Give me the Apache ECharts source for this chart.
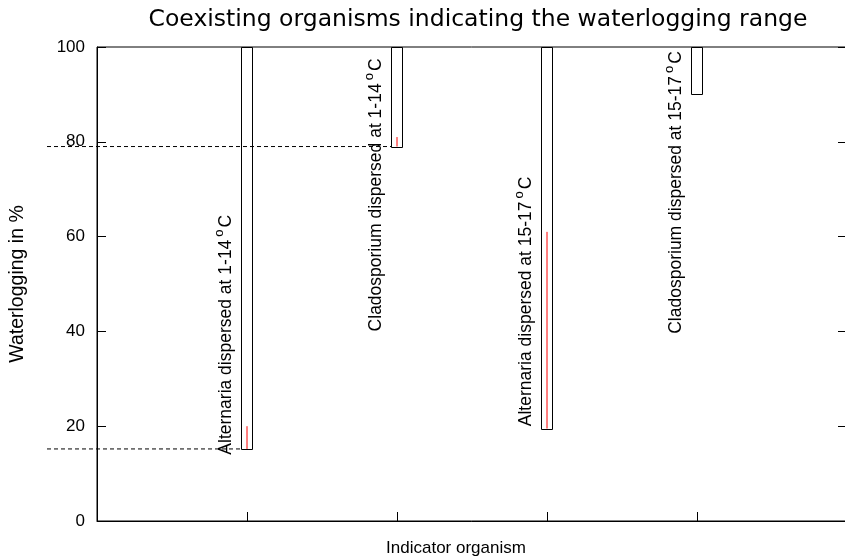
<!DOCTYPE html>
<html>
<head>
<meta charset="utf-8">
<script src="https://cdn.jsdelivr.net/npm/echarts@6/dist/echarts.min.js"></script>
<style>
  html, body { margin: 0; padding: 0; background: #fff; overflow: hidden; }
  #chart { width: 845px; height: 557px; }
</style>
</head>
<body>
<div id="chart"></div>
<script>
// range boxes: where each organism is found, from low value up to 100 %
const organisms = ['Alternaria 1-14', 'Cladosporium 1-14', 'Alternaria 15-17', 'Cladosporium 15-17'];
const positions = [1, 2, 3, 4];
const lowValues = [15.2, 79, 19.5, 90];
const highValues = [100, 100, 100, 100];
// red marker line inside each box (from low up to this value)
const redTops = [20, 81, 61, 90];
// rotated text next to each box
const labelTexts = [
  'Alternaria dispersed at 1-14{s|o}C',
  'Cladosporium dispersed at 1-14{s|o}C',
  'Alternaria dispersed at 15-17{s|o}C',
  'Cladosporium dispersed at 15-17{s|o}C'
];
const labelStarts = [14, 40, 20, 39.5];
// dashed reference lines (box index they lead to)
const dashedTo = [0, 1];
const yTicks = [0, 20, 40, 60, 80, 100];

const BOX_W = 0.075;
const LABEL_DX = -0.14;
const DASH_FROM = -1 / 3;
const FONT = '"Liberation Sans", Arial, sans-serif';

const chart = echarts.init(document.getElementById('chart'));

const boxData = positions.map((x, i) => [x, lowValues[i], highValues[i], redTops[i]]);
const labelData = positions.map((x, i) => [x + LABEL_DX, labelStarts[i], i]);
const dashData = dashedTo.map(i => [DASH_FROM, positions[i] - BOX_W / 2, lowValues[i]]);

const option = {
  animation: false,
  backgroundColor: '#fff',
  title: {
    text: 'Coexisting organisms indicating the waterlogging range',
    left: 473,
    textAlign: 'center',
    top: 3,
    textStyle: { fontFamily: '"DejaVu Sans", sans-serif', fontSize: 23.5, fontWeight: 'normal', color: '#000' }
  },
  grid: {
    left: 97, width: 750, top: 47, height: 474,
    outerBoundsMode: 'none',
    show: true, borderColor: '#000', borderWidth: 1
  },
  xAxis: {
    type: 'value', min: 0, max: 5, interval: 1,
    name: 'Indicator organism', nameLocation: 'middle', nameGap: 19,
    nameTextStyle: { fontFamily: FONT, fontSize: 17, color: '#000', padding: [0, 32, 0, 0] },
    axisLine: { show: true, onZero: false, lineStyle: { color: '#000', width: 1 } },
    axisTick: { show: true, inside: true, length: 9, lineStyle: { color: '#000' } },
    axisLabel: { show: false },
    splitLine: { show: false }
  },
  yAxis: [{
    type: 'value', min: 0, max: 100, interval: 20,
    name: 'Waterlogging in %', nameLocation: 'middle', nameGap: 69, nameRotate: 90,
    nameTextStyle: { fontFamily: FONT, fontSize: 19.5, color: '#000' },
    axisLine: { show: true, lineStyle: { color: '#000', width: 1 } },
    axisTick: { show: true, inside: true, length: 9, lineStyle: { color: '#000' } },
    axisLabel: { margin: 12, fontFamily: FONT, fontSize: 17, color: '#000',
      formatter: v => yTicks.includes(v) ? String(v) : '' },
    splitLine: { show: false }
  }, {
    type: 'value', min: 0, max: 100, interval: 20, position: 'right',
    axisLine: { show: false },
    axisTick: { show: true, inside: true, length: 9, lineStyle: { color: '#000' } },
    axisLabel: { show: false },
    splitLine: { show: false }
  }],
  series: [
    {
      // dashed guide lines
      type: 'custom', clip: false, z: 1,
      data: dashData,
      renderItem: (params, api) => {
        const a = api.coord([api.value(0), api.value(2)]);
        const b = api.coord([api.value(1), api.value(2)]);
        return {
          type: 'line',
          shape: { x1: a[0], y1: a[1], x2: b[0], y2: b[1] },
          style: { stroke: '#000', lineWidth: 1, lineDash: [4, 3] }
        };
      }
    },
    {
      // range boxes with red inner line
      type: 'custom', clip: false, z: 3,
      data: boxData,
      renderItem: (params, api) => {
        const x = api.value(0);
        const lo = api.coord([x, api.value(1)]);
        const hi = api.coord([x, api.value(2)]);
        const red = api.coord([x, api.value(3)]);
        const w = api.size([BOX_W, 0])[0];
        return {
          type: 'group',
          children: [
            {
              type: 'line',
              shape: { x1: lo[0], y1: lo[1], x2: red[0], y2: red[1] },
              style: { stroke: '#ff0000', lineWidth: 1 }
            },
            {
              type: 'rect',
              shape: { x: Math.round(lo[0] - w / 2) + 0.5, y: Math.round(hi[1]) + 0.5, width: Math.round(w), height: Math.round(lo[1] - hi[1]) },
              style: { fill: 'none', stroke: '#000', lineWidth: 1 }
            }
          ]
        };
      }
    },
    {
      // rotated labels
      type: 'custom', clip: false, z: 4,
      data: labelData,
      renderItem: (params, api) => {
        const p = api.coord([api.value(0), api.value(1)]);
        return {
          type: 'text',
          x: p[0], y: p[1],
          rotation: Math.PI / 2,
          style: {
            text: labelTexts[api.value(2)],
            align: 'left',
            verticalAlign: 'middle',
            fontFamily: FONT,
            fontSize: 17.5,
            fill: '#000',
            rich: {
              s: { fontSize: 13, fontFamily: FONT, fill: '#000', verticalAlign: 'top', padding: [0, 2, 14, 3] }
            }
          }
        };
      }
    }
  ]
};

chart.setOption(option);
</script>
</body>
</html>
